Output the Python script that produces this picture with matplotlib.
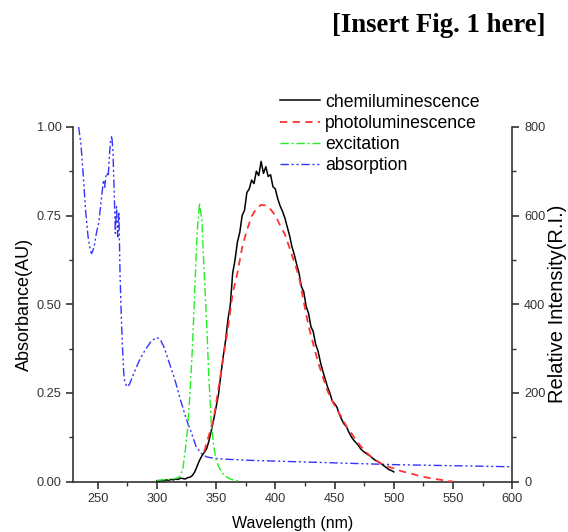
import matplotlib
matplotlib.use('Agg')
import matplotlib.pyplot as plt
from matplotlib.ticker import MultipleLocator

plt.rcParams['font.family'] = ['Liberation Sans', 'DejaVu Sans']

# absorption on left axis (AU)
ABS_WL = [234, 236, 238, 240, 242, 244, 245, 247, 249, 251, 253, 255, 256, 257, 258, 259,
          260, 261, 262, 263, 264, 265, 266, 267, 268, 269, 270, 271, 272, 273, 275, 277,
          280, 285, 290, 295, 300, 303, 306, 310, 315, 320, 325, 329, 333, 337, 342, 348,
          360, 380, 400, 450, 500, 550, 600]
ABS_VAL = [1.00, 0.95, 0.86, 0.76, 0.69, 0.65, 0.643, 0.66, 0.70, 0.73, 0.79, 0.85, 0.83, 0.86,
           0.87, 0.86, 0.92, 0.96, 0.975, 0.93, 0.82, 0.70, 0.775, 0.69, 0.76, 0.58, 0.47,
           0.38, 0.31, 0.28, 0.267, 0.275, 0.30, 0.34, 0.37, 0.395, 0.407, 0.40, 0.38, 0.34,
           0.29, 0.23, 0.175, 0.14, 0.10, 0.081, 0.070, 0.066, 0.063, 0.060, 0.058, 0.053,
           0.048, 0.045, 0.042]

# excitation on right axis (R.I.)
EXC_WL = [300, 305, 310, 315, 318, 320, 322, 324, 326, 328, 330, 332, 334, 336, 338, 340,
          342, 344, 346, 348, 350, 352, 355, 358, 362, 366, 370]
EXC_VAL = [3, 4, 5, 7, 9, 14, 30, 70, 120, 200, 300, 430, 560, 628, 590, 470, 360, 230, 130,
           80, 50, 35, 20, 12, 6, 3, 1]

# chemiluminescence (R.I.)
CL_WL = list(range(300, 502, 2))
CL_VAL = [2, 1, 3, 2, 4, 3, 5, 4, 6, 5, 8, 7, 6, 9, 10, 14, 22, 35, 48, 58, 66, 74, 92, 115,
          140, 168, 196, 240, 282, 318, 365, 398, 470, 500, 540, 562, 600, 612, 652, 660, 680,
          672, 700, 690, 722, 695, 710, 688, 692, 665, 660, 638, 622, 610, 595, 575, 555, 530,
          512, 490, 470, 440, 428, 395, 380, 350, 338, 310, 295, 270, 250, 232, 214, 200, 182,
          176, 168, 152, 140, 130, 124, 112, 102, 94, 88, 82, 74, 69, 65, 61, 58, 53, 49, 46,
          43, 39, 35, 31, 27, 25, 22]

# photoluminescence (R.I.)
PL_WL = [340, 344, 348, 352, 356, 360, 364, 368, 372, 376, 380, 384, 388, 392, 396, 400,
         404, 408, 412, 416, 420, 424, 428, 432, 436, 440, 444, 448, 452, 456, 460, 464,
         468, 472, 476, 480, 484, 488, 492, 496, 500, 505, 510, 515, 520, 525, 530, 535,
         540, 545, 550]
PL_VAL = [68, 105, 142, 210, 278, 345, 425, 470, 528, 567, 598, 616, 624, 623, 614, 600,
          578, 558, 527, 495, 462, 405, 352, 310, 270, 237, 205, 182, 162, 145, 125, 110,
          94, 80, 68, 58, 50, 43, 37, 33, 30, 25, 21, 18, 14, 11, 8, 6, 4, 2, 0]

AXIS_COLOR = '#333333'

fig = plt.figure(figsize=(5.68, 5.32), dpi=100)
ax = fig.add_axes([0.129, 0.0946, 0.773, 0.667])
ax2 = ax.twinx()

l_abs, = ax.plot(ABS_WL, ABS_VAL, color='#3333ff', lw=1.0,
                 linestyle=(0, (6, 2, 1.5, 2, 1.5, 2)), label='absorption')
l_cl, = ax2.plot(CL_WL, CL_VAL, color='black', lw=1.1, label='chemiluminescence')
l_pl, = ax2.plot(PL_WL, PL_VAL, color='#ff3333', lw=1.3,
                 linestyle=(0, (4, 3)), label='photoluminescence')
l_exc, = ax2.plot(EXC_WL, EXC_VAL, color='#22ee22', lw=1.0,
                  linestyle=(0, (6, 2, 1.5, 2)), label='excitation')

ax.set_xlim(229.5, 600)
ax.set_ylim(0, 1.0)
ax2.set_ylim(0, 800)

ax.xaxis.set_major_locator(MultipleLocator(50))
ax.xaxis.set_minor_locator(MultipleLocator(25))
ax.yaxis.set_major_locator(MultipleLocator(0.25))
ax.yaxis.set_minor_locator(MultipleLocator(0.125))
ax.yaxis.set_major_formatter(plt.FormatStrFormatter('%.2f'))
ax2.yaxis.set_major_locator(MultipleLocator(200))
ax2.yaxis.set_minor_locator(MultipleLocator(100))

for a in (ax, ax2):
    a.spines['top'].set_visible(False)
    for s in a.spines.values():
        s.set_color(AXIS_COLOR)
        s.set_linewidth(1.2)
    a.tick_params(which='major', direction='out', length=5, width=1.2,
                  colors=AXIS_COLOR, labelsize=9.2)
    a.tick_params(which='minor', direction='out', length=3, width=1.0, colors=AXIS_COLOR)
ax.spines['right'].set_visible(False)
ax2.spines['left'].set_visible(False)
ax2.spines['bottom'].set_visible(False)

ax.set_xlabel('Wavelength (nm)', fontsize=11.5)
ax.xaxis.set_label_coords(0.5, -0.098)
ax.set_ylabel('Absorbance(AU)', fontsize=13)
ax.yaxis.set_label_coords(-0.092, 0.5)
ax2.set_ylabel('Relative Intensity(R.I.)', fontsize=14.5)
ax2.yaxis.set_label_coords(1.082, 0.5)

fig.legend(handles=[l_cl, l_pl, l_exc, l_abs], loc='upper left',
           bbox_to_anchor=(0.493, 0.824), frameon=False, fontsize=12.7,
           handlelength=2.27, handletextpad=0.28, labelspacing=0.23,
           borderpad=0, borderaxespad=0)

fig.text(0.773, 0.953, '[Insert Fig. 1 here]', family='Liberation Serif',
         fontweight='bold', fontsize=19.3, ha='center', va='center')

fig.savefig('out.png', dpi=100)
